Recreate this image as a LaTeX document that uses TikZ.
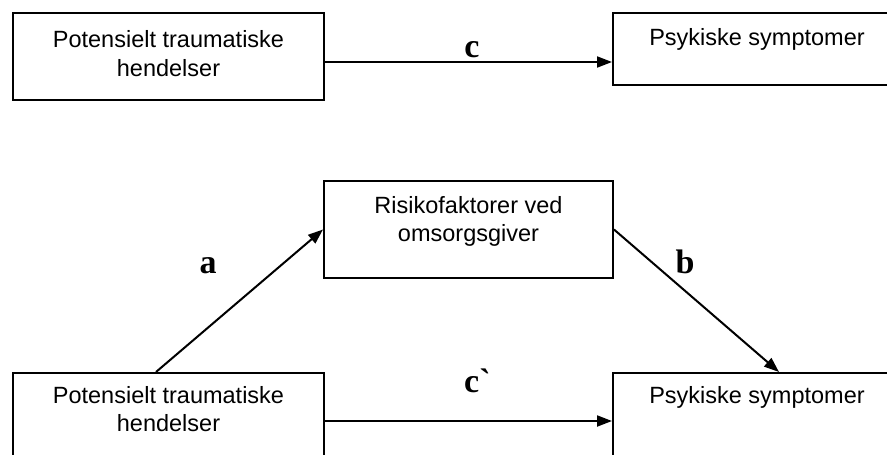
\documentclass[tikz,border=0pt]{standalone}
\usepackage{fontspec}
\setmainfont{Liberation Serif}
\setsansfont{Liberation Sans}
\usetikzlibrary{arrows.meta,calc}

\begin{document}
\begin{tikzpicture}[x=1pt,y=-1pt,
    box/.style={draw, line width=2pt, inner sep=0pt, anchor=north west},
    boxtext/.style={anchor=north, align=center, inner sep=0pt, font=\sffamily\fontsize{23.5}{28.5}\selectfont},
    link/.style={line width=2pt, -{Triangle[length=15pt,width=11pt]}},
    coef/.style={anchor=base, inner sep=0pt, font=\bfseries\fontsize{34}{40}\selectfont}]
    \useasboundingbox (0,0) rectangle (887,455);
    \clip (0,0) rectangle (887,455);

    % Top: direct path
    \node[box, minimum width=311pt, minimum height=87pt] (tl) at (12,12) {};
    \node[box, minimum width=288pt, minimum height=72pt] (tr) at (612,12) {};
    \node[boxtext] (tltext) at ([yshift=-18.5pt]tl.north) {Potensielt traumatiske\\hendelser};
    \node[boxtext] (trtext) at ([yshift=-16pt]tr.north) {Psykiske symptomer};

    % Bottom: mediation
    \node[box, minimum width=289pt, minimum height=97pt] (mid) at (323,180) {};
    \node[box, minimum width=311pt, minimum height=96pt] (bl) at (12,372) {};
    \node[box, minimum width=288pt, minimum height=96pt] (br) at (612,372) {};
    \node[boxtext] (midtext) at ([yshift=-16pt]mid.north) {Risikofaktorer ved\\omsorgsgiver};
    \node[boxtext] (bltext) at ([yshift=-14pt]bl.north) {Potensielt traumatiske\\hendelser};
    \node[boxtext] (brtext) at ([yshift=-14pt]br.north) {Psykiske symptomer};

    % Arrows
    \coordinate (ctop) at ($(tl.east)+(0,5.5)$);
    \draw[link] (ctop) -- (ctop -| tr.west);
    \draw[link] ([xshift=-12.5pt]bl.north) -- (mid.west);
    \draw[link] (mid.east) -- ([xshift=22pt]br.north);
    \draw[link] (bl.east) -- (br.west);

    % Labels
    \node[coef] (lc) at (472,57) {c};
    \node[coef] (la) at (208,273) {a};
    \node[coef] (lb) at (685,273) {b};
    \node[coef, anchor=base west] (lcp) at (464,392) {c\textasciigrave};
\end{tikzpicture}
\end{document}
